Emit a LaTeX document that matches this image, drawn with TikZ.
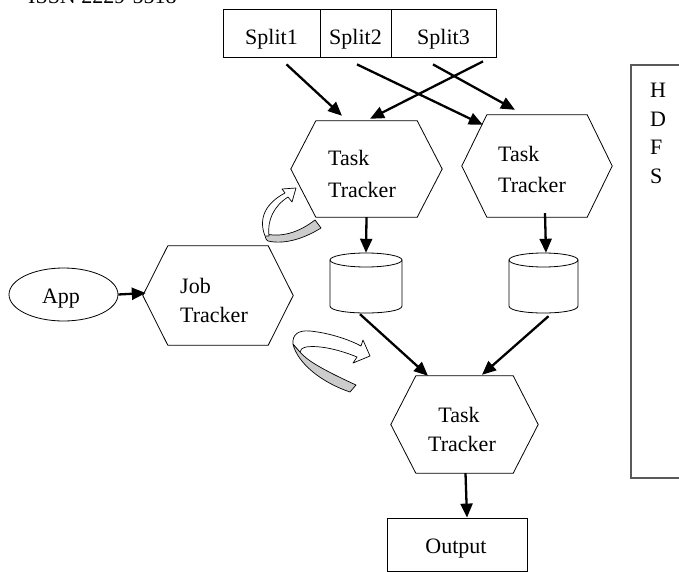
\documentclass[tikz,border=0pt]{standalone}
\usepackage{fontspec}
\setmainfont{Liberation Serif}
\usetikzlibrary{arrows.meta,calc,shapes.geometric}

\tikzset{
  outline/.style={draw, line width=0.8pt},
  ghost/.style={inner sep=0pt, draw=none},
  arr/.style={line width=2.3pt, -{Triangle[length=14pt,width=12pt]}},
  lbl/.style={font=\fontsize{22}{30}\selectfont, inner sep=0pt},
  ribbonfront/.style={draw, line width=0.7pt, fill=white, line join=round},
  ribbonback/.style={draw, line width=0.7pt, fill=black!20, line join=round},
}

% hexagon: name, cx, cy, width, height
\newcommand{\myhex}[5]{%
  \node[ghost, minimum width=#4pt, minimum height=#5pt] (#1) at (#2,#3) {};
  \draw[outline] (#1.west) -- ([xshift=25pt]#1.north west) -- ([xshift=-25pt]#1.north east)
     -- (#1.east) -- ([xshift=-25pt]#1.south east) -- ([xshift=25pt]#1.south west) -- cycle;
}
% cylinder: name, cx, top, bottom, rx
\newcommand{\mycyl}[5]{%
  \node[ghost, minimum width=2*#5 pt, minimum height=#4pt-#3pt] (#1) at (#2,{(#3+#4)/2}) {};
  \draw[outline, fill=white] (#2-#5,#3+7) -- (#2-#5,#4-7)
     .. controls (#2-#5,#4+2.33) and (#2+#5,#4+2.33) .. (#2+#5,#4-7) -- (#2+#5,#3+7);
  \draw[outline] (#2,#3+7) ellipse [x radius=#5, y radius=7];
}

\begin{document}
\begin{tikzpicture}[x=1pt,y=-1pt]
\useasboundingbox (0,0) rectangle (679,572);

% header (cut off at top)
\node[lbl, anchor=base west] (issn) at (28,4) {ISSN 2229-5518};

% splits
\node[outline, minimum width=97pt, minimum height=48pt, inner sep=0pt] (s1) at (271.5,33) {};
\node[outline, minimum width=71pt, minimum height=48pt, inner sep=0pt] (s2) at (355.5,33) {};
\node[outline, minimum width=105pt, minimum height=48pt, inner sep=0pt] (s3) at (443.5,33) {};
\node[lbl, anchor=base] (s1t) at (271.5,45) {Split1};
\node[lbl, anchor=base] (s2t) at (355.5,45) {Split2};
\node[lbl, anchor=base] (s3t) at (443.5,45) {Split3};

% task trackers
\myhex{tt1}{366.5}{169}{151}{96}
\node[lbl, anchor=base west] (tt1a) at (328,166) {Task};
\node[lbl, anchor=base west] (tt1b) at (328,197) {Tracker};

\myhex{tt2}{537}{166}{150}{102}
\node[lbl, anchor=base west] (tt2a) at (498,161) {Task};
\node[lbl, anchor=base west] (tt2b) at (498,192) {Tracker};

\myhex{jt}{218}{295.5}{150}{99}
\node[lbl, anchor=base west] (jta) at (180,293) {Job};
\node[lbl, anchor=base west] (jtb) at (180,322) {Tracker};

\myhex{tt3}{464.5}{424.5}{147}{97}
\node[lbl, anchor=base] (tt3a) at (459,422) {Task};
\node[lbl, anchor=base] (tt3b) at (462,451) {Tracker};

% app
\node[outline, ellipse, minimum width=109pt, minimum height=53pt, inner sep=0pt] (app) at (63.5,294.5) {};
\node[lbl, anchor=base] (appt) at (61,303) {App};

% cylinders
\mycyl{c1}{366}{253}{313}{36}
\mycyl{c2}{543.5}{253}{313}{34.5}

% output
\node[outline, minimum width=140pt, minimum height=53pt, inner sep=0pt] (out) at (457,544.5) {};
\node[lbl, anchor=base] (outt) at (456,553) {Output};

% HDFS
\node[draw=black!65, line width=1.2pt, minimum width=89pt, minimum height=413pt, inner sep=0pt] (hdfs) at (675.5,271.5) {};
\node[lbl, anchor=base west] (h1) at (650,98) {H};
\node[lbl, anchor=base west] (h2) at (650,127) {D};
\node[lbl, anchor=base west] (h3) at (650,155) {F};
\node[lbl, anchor=base west] (h4) at (650,183) {S};

% arrows
\draw[arr] ([xshift=15pt,yshift=-7pt]s1.south) -- ([xshift=-24.5pt,yshift=5pt]tt1.north);
\draw[arr] ([xshift=1.5pt,yshift=-7pt]s2.south) -- ([xshift=21pt,yshift=-10pt]tt2.north west);
\draw[arr] ([xshift=-10.5pt,yshift=-7pt]s3.south) -- ([xshift=-22pt,yshift=5pt]tt2.north);
\draw[arr] ([xshift=39.5pt,yshift=-4pt]s3.south) -- ([xshift=3.5pt,yshift=2pt]tt1.north);
\draw[arr] (tt1.south) -- (c1.north);
\draw[arr] ([xshift=8pt,yshift=4pt]tt2.south) -- ([xshift=2.5pt]c2.north);
\draw[arr] ([xshift=-6pt,yshift=-1pt]c1.south) -- ([xshift=-36.5pt]tt3.north);
\draw[arr] ([xshift=5pt,yshift=-3pt]c2.south) -- ([xshift=17.5pt,yshift=1pt]tt3.north);
\draw[arr] (app.east) -- ([xshift=3pt,yshift=2.5pt]jt.west);
\draw[arr] ([xshift=1pt]tt3.south) -- ([xshift=10pt]out.north);

% curved 3D arrow near upper task tracker
\draw[ribbonback] (266,234) .. controls (285,238) and (302,230) .. (315,220) -- (321,228)
   .. controls (305,238) and (285,245) .. (268,241) .. controls (265,239) and (265,236) .. cycle;
\draw[ribbonfront] (265,236) .. controls (258,218) and (266,203) .. (285,193) -- (282,189)
   -- (296,188) -- (292,202) -- (288,197) .. controls (274,206) and (267,220) .. (269,236) -- cycle;

% curved 3D arrow near job tracker
\draw[ribbonback] (293,344) .. controls (297,362) and (320,382) .. (350,392) -- (356,385)
   .. controls (330,373) and (308,362) .. (300,352) -- cycle;
\draw[ribbonfront] (293,344) .. controls (292,334) and (299,330) .. (310,331)
   .. controls (330,333) and (350,340) .. (361,346) -- (363,340) -- (370,356) -- (353,363)
   -- (357,357) .. controls (340,350) and (320,345) .. (306,347)
   .. controls (302,348) and (300,350) .. (300,352) -- cycle;
\end{tikzpicture}
\end{document}
